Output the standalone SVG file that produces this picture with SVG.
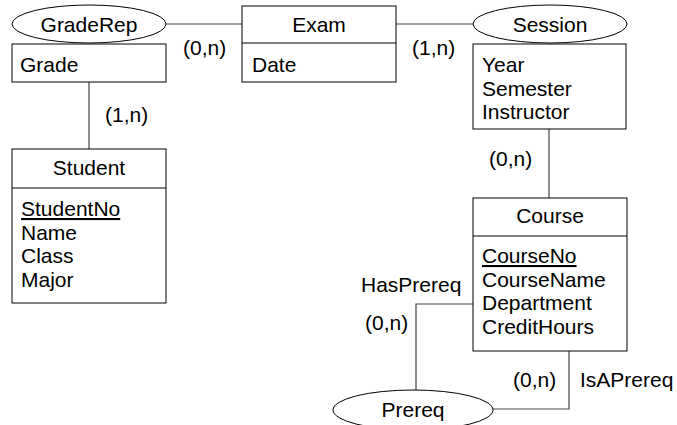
<svg xmlns="http://www.w3.org/2000/svg" width="677" height="425" viewBox="0 0 677 425">
  <style>
    .box { fill: #ffffff; stroke: #000000; stroke-width: 1; }
    .rel { fill: #ffffff; stroke: #000000; stroke-width: 1; }
    .link { fill: none; stroke: #444444; stroke-width: 1.2; }
    text { font-family: "Liberation Sans", Arial, sans-serif; font-size: 21px; fill: #000000; }
    .mid { text-anchor: middle; }
    .key { text-decoration: underline; }
  </style>
  <rect width="677" height="425" fill="#ffffff"/>

  <!-- connectors -->
  <g id="connectors">
    <line class="link" x1="166" y1="24" x2="242" y2="24"/>
    <line class="link" x1="396" y1="24" x2="473" y2="24"/>
    <line class="link" x1="89" y1="82" x2="89" y2="149"/>
    <line class="link" x1="549" y1="129" x2="549" y2="198"/>
    <polyline class="link" points="473,304 416,304 416,390"/>
    <polyline class="link" points="569,351 569,409 493,409"/>
    <text x="183" y="55">(0,n)</text>
    <text x="412" y="55">(1,n)</text>
    <text x="105" y="122">(1,n)</text>
    <text x="489" y="166">(0,n)</text>
    <text x="361" y="292">HasPrereq</text>
    <text x="365" y="330">(0,n)</text>
    <text x="513" y="387">(0,n)</text>
    <text x="580" y="387">IsAPrereq</text>
  </g>

  <!-- GradeRep relationship with its attribute box -->
  <g id="graderep">
    <ellipse class="rel" cx="89" cy="24" rx="77" ry="19"/>
    <text class="mid" x="89" y="32">GradeRep</text>
    <rect class="box" x="12" y="44" width="154" height="38"/>
    <text x="20" y="72">Grade</text>
  </g>

  <!-- Exam entity -->
  <g id="exam">
    <rect class="box" x="242" y="6" width="154" height="76"/>
    <line class="box" x1="242" y1="43" x2="396" y2="43"/>
    <text class="mid" x="319" y="32">Exam</text>
    <text x="252" y="72">Date</text>
  </g>

  <!-- Session relationship with its attribute box -->
  <g id="session">
    <ellipse class="rel" cx="550" cy="24" rx="77" ry="19"/>
    <text class="mid" x="550" y="32">Session</text>
    <rect class="box" x="473" y="44" width="153" height="85"/>
    <text x="482" y="72">Year</text>
    <text x="482" y="96">Semester</text>
    <text x="482" y="119">Instructor</text>
  </g>

  <!-- Student entity -->
  <g id="student">
    <rect class="box" x="12" y="149" width="154" height="154"/>
    <line class="box" x1="12" y1="188" x2="166" y2="188"/>
    <text class="mid" x="89" y="175">Student</text>
    <text class="key" x="21" y="216">StudentNo</text>
    <text x="21" y="240">Name</text>
    <text x="21" y="263">Class</text>
    <text x="21" y="287">Major</text>
  </g>

  <!-- Course entity -->
  <g id="course">
    <rect class="box" x="473" y="198" width="154" height="153"/>
    <line class="box" x1="473" y1="236" x2="627" y2="236"/>
    <text class="mid" x="550" y="223">Course</text>
    <text class="key" x="482" y="263">CourseNo</text>
    <text x="482" y="287">CourseName</text>
    <text x="482" y="310">Department</text>
    <text x="482" y="334">CreditHours</text>
  </g>

  <!-- Prereq relationship -->
  <g id="prereq">
    <ellipse class="rel" cx="413" cy="410" rx="80" ry="20"/>
    <text class="mid" x="413" y="417">Prereq</text>
  </g>
</svg>
